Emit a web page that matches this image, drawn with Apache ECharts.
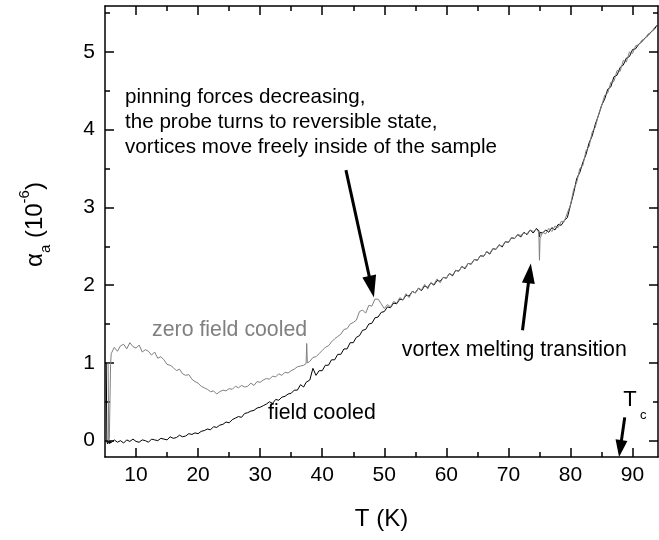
<!DOCTYPE html>
<html><head><meta charset="utf-8">
<script src="https://cdn.jsdelivr.net/npm/echarts@6/dist/echarts.min.js"></script>
<style>html,body{margin:0;padding:0;background:#fff}#c{width:659px;height:540px}</style>
</head><body><div id="c"></div>
<script>
// Temperature grid (K)
const temps = [
  5.2, 5.3, 5.4, 5.5, 5.6, 5.7, 5.8, 5.9, 6.0,
  6.5, 7.0, 7.5, 8.0, 8.5, 9.0, 9.5, 10.0,
  10.5, 11.0, 11.5, 12.0, 12.5, 13.0, 13.5, 14.0, 14.5, 15.0,
  15.5, 16.0, 16.5, 17.0, 17.5, 18.0, 18.5, 19.0, 19.5, 20.0,
  20.5, 21.0, 21.5, 22.0, 22.5, 23.0, 23.5, 24.0, 24.5, 25.0,
  25.5, 26.0, 26.5, 27.0, 27.5, 28.0, 28.5, 29.0, 29.5, 30.0,
  30.5, 31.0, 31.5, 32.0, 32.5, 33.0, 33.5, 34.0, 34.5, 35.0,
  35.5, 36.0, 36.5, 37.0, 37.4, 37.5, 37.6, 38.0, 38.5, 39.0, 39.5, 40.0,
  40.5, 41.0, 41.5, 42.0, 42.5, 43.0, 43.5, 44.0, 44.5, 45.0,
  45.5, 46.0, 46.5, 47.0, 47.5, 48.0, 48.5, 49.0, 49.5, 50.0,
  50.5, 51.0, 51.5, 52.0, 52.5, 53.0, 53.5, 54.0, 54.5, 55.0,
  55.5, 56.0, 56.5, 57.0, 57.5, 58.0, 58.5, 59.0, 59.5, 60.0,
  60.5, 61.0, 61.5, 62.0, 62.5, 63.0, 63.5, 64.0, 64.5, 65.0,
  65.5, 66.0, 66.5, 67.0, 67.5, 68.0, 68.5, 69.0, 69.5, 70.0,
  70.5, 71.0, 71.5, 72.0, 72.5, 73.0, 73.5, 74.0, 74.5, 74.9, 75.0, 75.1, 75.5,
  76.0, 76.5, 77.0, 77.5, 78.0, 78.5, 79.0, 79.5, 80.0,
  80.5, 81.0, 81.5, 82.0, 82.5, 83.0, 83.5, 84.0, 84.5, 85.0,
  85.5, 86.0, 86.5, 87.0, 87.5, 88.0, 88.5, 89.0, 89.5, 90.0,
  90.5, 91.0, 91.5, 92.0, 92.5, 93.0, 93.5, 94.0
];
// field cooled (black), alpha_a in 1e-6
const fcValues = [
  1.00, -0.01, -0.04, -0.01, 0.01, -0.04, 0.00, -0.03, -0.01,
  0.01, -0.02, 0.00, -0.03, 0.01, -0.01, 0.02, -0.01,
  -0.02, 0.01, 0.00, -0.02, 0.02, 0.01, 0.00, 0.03, 0.02, 0.01,
  0.05, 0.03, 0.04, 0.07, 0.05, 0.06, 0.09, 0.08, 0.10, 0.09,
  0.12, 0.13, 0.15, 0.14, 0.18, 0.17, 0.20, 0.21, 0.24, 0.23,
  0.27, 0.29, 0.31, 0.30, 0.35, 0.36, 0.38, 0.39, 0.42, 0.43,
  0.45, 0.47, 0.50, 0.48, 0.53, 0.52, 0.56, 0.57, 0.60, 0.61,
  0.65, 0.65, 0.72, 0.69, 0.75, 0.74, 0.77, 0.78, 0.93, 0.84, 0.90, 0.90,
  0.97, 0.97, 1.04, 1.04, 1.11, 1.11, 1.18, 1.18, 1.26, 1.26,
  1.33, 1.35, 1.42, 1.43, 1.50, 1.51, 1.58, 1.59, 1.65, 1.66,
  1.72, 1.71, 1.77, 1.76, 1.82, 1.81, 1.87, 1.86, 1.92, 1.90,
  1.96, 1.93, 1.99, 1.97, 2.03, 2.00, 2.06, 2.05, 2.10, 2.09,
  2.15, 2.12, 2.19, 2.18, 2.24, 2.21, 2.28, 2.27, 2.33, 2.32,
  2.38, 2.37, 2.43, 2.40, 2.47, 2.46, 2.52, 2.49, 2.56, 2.55,
  2.61, 2.60, 2.65, 2.62, 2.68, 2.65, 2.71, 2.67, 2.73, 2.70, 2.62, 2.68, 2.67,
  2.71, 2.68, 2.74, 2.71, 2.78, 2.77, 2.83, 2.87, 3.03,
  3.18, 3.37, 3.45, 3.58, 3.68, 3.83, 3.92, 4.07, 4.18, 4.31,
  4.39, 4.52, 4.55, 4.68, 4.70, 4.80, 4.83, 4.92, 4.94, 5.03,
  5.04, 5.10, 5.13, 5.18, 5.21, 5.26, 5.29, 5.35
];
// zero field cooled (gray)
const zfcValues = [
  null, null, null, 1.00, 0.00, 0.03, 0.50, 0.98, 1.12,
  1.20, 1.15, 1.22, 1.24, 1.18, 1.26, 1.21, 1.19,
  1.23, 1.14, 1.17, 1.15, 1.10, 1.14, 1.06, 1.08, 1.04, 0.98,
  0.97, 0.94, 0.90, 0.92, 0.86, 0.84, 0.85, 0.79, 0.76, 0.74,
  0.70, 0.68, 0.66, 0.63, 0.64, 0.60, 0.63, 0.65, 0.64, 0.67,
  0.66, 0.70, 0.68, 0.71, 0.69, 0.70, 0.74, 0.71, 0.76, 0.75,
  0.78, 0.80, 0.79, 0.83, 0.82, 0.86, 0.84, 0.88, 0.87, 0.90,
  0.92, 0.95, 0.96, 0.97, 0.99, 1.25, 1.00, 1.02, 1.07, 1.08, 1.12, 1.16,
  1.20, 1.22, 1.27, 1.31, 1.34, 1.37, 1.43, 1.44, 1.50, 1.52,
  1.55, 1.66, 1.68, 1.64, 1.74, 1.73, 1.82, 1.82, 1.76, 1.70,
  1.75, 1.72, 1.79, 1.77, 1.84, 1.81, 1.89, 1.84, 1.92, 1.90,
  1.96, 1.94, 2.01, 1.95, 2.03, 2.01, 2.08, 2.03, 2.10, 2.09,
  2.15, 2.13, 2.19, 2.18, 2.24, 2.22, 2.28, 2.27, 2.33, 2.32,
  2.38, 2.37, 2.43, 2.41, 2.47, 2.46, 2.52, 2.50, 2.56, 2.55,
  2.61, 2.60, 2.65, 2.64, 2.67, 2.66, 2.71, 2.69, 2.72, 2.68, 2.32, 2.60, 2.68,
  2.66, 2.73, 2.69, 2.76, 2.74, 2.82, 2.82, 2.93, 3.03,
  3.23, 3.32, 3.50, 3.54, 3.73, 3.78, 3.97, 4.03, 4.19, 4.30,
  4.44, 4.47, 4.61, 4.62, 4.76, 4.75, 4.89, 4.87, 5.00, 4.98,
  5.08, 5.09, 5.15, 5.17, 5.23, 5.25, 5.31, 5.35
];
const xMajorTicks = [10, 20, 30, 40, 50, 60, 70, 80, 90];
const xMinorTicks = [15, 25, 35, 45, 55, 65, 75, 85];
const yMajorTicks = [0, 1, 2, 3, 4, 5];
const yMinorTicks = [0.5, 1.5, 2.5, 3.5, 4.5, 5.5];
const noteLines = [
  'pinning forces decreasing,',
  'the probe turns to reversible state,',
  'vortices move freely inside of the sample'
];
const zfcLabel = 'zero field cooled';
const fcLabel = 'field cooled';
const meltLabel = 'vortex melting transition';

const FONT = '"Liberation Sans", Arial, Helvetica, sans-serif';
const X_RANGE = [5, 94.1];
const Y_RANGE = [-0.21, 5.59];

const toPairs = vals => temps.map((t, i) => [t, vals[i]]).filter(p => p[1] !== null);

function xAx(position, ticks, len, showLine, showLabel) {
  return {
    type: 'value', position: position, min: X_RANGE[0], max: X_RANGE[1],
    axisLine: {show: showLine, onZero: false, lineStyle: {color: '#000', width: 1.5}},
    axisTick: {show: true, inside: true, length: len, customValues: ticks, lineStyle: {color: '#000', width: 1.5}},
    axisLabel: {show: showLabel, customValues: ticks, margin: 8, fontSize: 21, fontFamily: FONT, color: '#000'},
    splitLine: {show: false}
  };
}
function yAx(position, ticks, len, showLine, showLabel) {
  return {
    type: 'value', position: position, min: Y_RANGE[0], max: Y_RANGE[1],
    axisLine: {show: showLine, onZero: false, lineStyle: {color: '#000', width: 1.5}},
    axisTick: {show: true, inside: true, length: len, customValues: ticks, lineStyle: {color: '#000', width: 1.5}},
    axisLabel: {show: showLabel, customValues: ticks, margin: 10, fontSize: 21, fontFamily: FONT, color: '#000'},
    splitLine: {show: false}
  };
}

const xMain = xAx('bottom', xMajorTicks, 9, true, true);
xMain.name = 'T (K)';
xMain.nameLocation = 'middle';
xMain.nameGap = 50;
xMain.nameTextStyle = {fontSize: 24, fontFamily: FONT, color: '#000'};

const yMain = yAx('left', yMajorTicks, 9, true, true);
yMain.name = '{sp| }{g|α}{s|a}{g| (10}{p|-6}{g|)}';
yMain.nameLocation = 'middle';
yMain.nameRotate = 90;
yMain.nameGap = 52;
yMain.nameTextStyle = {
  fontFamily: FONT, color: '#000',
  rich: {
    sp: {width: 14, fontSize: 10},
    g: {fontSize: 24, fontFamily: FONT, color: '#000', lineHeight: 36},
    s: {fontSize: 15, fontFamily: FONT, color: '#000', verticalAlign: 'bottom'},
    p: {fontSize: 15, fontFamily: FONT, color: '#000', verticalAlign: 'top'}
  }
};

const chart = echarts.init(document.getElementById('c'), null, {renderer: 'canvas'});
chart.setOption({
  animation: false,
  backgroundColor: '#fff',
  grid: {left: 105, top: 6, width: 553, height: 451, containLabel: false},
  xAxis: [
    xMain,
    xAx('bottom', xMinorTicks, 5, false, false),
    xAx('top', xMajorTicks, 9, true, false),
    xAx('top', xMinorTicks, 5, false, false)
  ],
  yAxis: [
    yMain,
    yAx('left', yMinorTicks, 5, false, false),
    yAx('right', yMajorTicks, 9, true, false),
    yAx('right', yMinorTicks, 5, false, false)
  ],
  series: [
    {name: fcLabel, type: 'line', xAxisIndex: 0, yAxisIndex: 0, data: toPairs(fcValues),
     showSymbol: false, symbol: 'none', lineStyle: {color: '#000', width: 1}, z: 2},
    {name: zfcLabel, type: 'line', xAxisIndex: 0, yAxisIndex: 0, data: toPairs(zfcValues),
     showSymbol: false, symbol: 'none', lineStyle: {color: '#808080', width: 1}, z: 3}
  ]
});

// Annotations anchored in data coordinates
const px = (t, v) => chart.convertToPixel({xAxisIndex: 0, yAxisIndex: 0}, [t, v]);
const graphics = [];
function addText(t, v, text, size, color) {
  const p = px(t, v);
  graphics.push({type: 'text', x: p[0], y: p[1], z: 10,
    style: {text: text, fontSize: size, fontFamily: FONT, fill: color, align: 'left', verticalAlign: 'middle'}});
}
function addArrow(from, to, headLen, headHalf, width) {
  const a = px(from[0], from[1]), b = px(to[0], to[1]);
  const dx = b[0] - a[0], dy = b[1] - a[1], L = Math.hypot(dx, dy);
  const ux = dx / L, uy = dy / L, nx = -uy, ny = ux;
  const bx = b[0] - ux * headLen, by = b[1] - uy * headLen;
  graphics.push({type: 'line', z: 10, shape: {x1: a[0], y1: a[1], x2: bx + ux * 2, y2: by + uy * 2},
    style: {stroke: '#000', lineWidth: width}});
  graphics.push({type: 'polygon', z: 10, shape: {points: [[b[0], b[1]], [bx + nx * headHalf, by + ny * headHalf], [bx - nx * headHalf, by - ny * headHalf]]},
    style: {fill: '#000'}});
}
addText(8.23, 4.42, noteLines[0], 20.6, '#000');
addText(8.23, 4.10, noteLines[1], 20.6, '#000');
addText(8.23, 3.77, noteLines[2], 20.6, '#000');
addText(12.58, 1.42, zfcLabel, 21.3, '#808080');
addText(31.26, 0.35, fcLabel, 21.3, '#000');
addText(52.83, 1.16, meltLabel, 21.3, '#000');
addText(88.5, 0.53, 'T', 22, '#000');
addText(91.2, 0.33, 'c', 13, '#000');
addArrow([43.82, 3.48], [48.33, 1.84], 22, 7, 3);
addArrow([72.27, 1.42], [73.61, 2.28], 20, 6.5, 3);
addArrow([88.74, 0.30], [87.83, -0.21], 17, 6, 3);
chart.setOption({graphic: graphics});
</script></body></html>
